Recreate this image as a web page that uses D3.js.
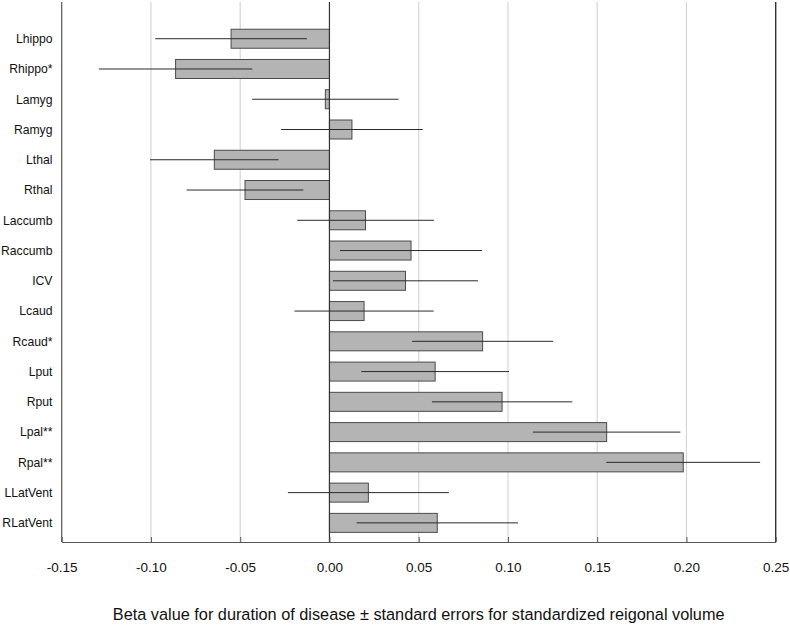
<!DOCTYPE html>
<html>
<head>
<meta charset="utf-8">
<script src="https://cdn.jsdelivr.net/npm/d3@7/dist/d3.min.js"></script>
<style>
  html, body { margin: 0; padding: 0; background: #fff; }
  svg { display: block; font-family: "Liberation Sans", Arial, sans-serif; }
</style>
</head>
<body>
<svg id="chart" width="790" height="625"></svg>
<script>
const categories = ["Lhippo","Rhippo*","Lamyg","Ramyg","Lthal","Rthal","Laccumb","Raccumb","ICV","Lcaud","Rcaud*","Lput","Rput","Lpal**","Rpal**","LLatVent","RLatVent"];
const beta = [-0.0551, -0.0862, -0.0023, 0.0126, -0.0645, -0.0473, 0.0202, 0.0457, 0.0426, 0.0194, 0.0858, 0.0592, 0.0967, 0.1553, 0.1982, 0.0218, 0.0604];
const stdErr = [0.0425, 0.0430, 0.0410, 0.0397, 0.0360, 0.0327, 0.0383, 0.0398, 0.0406, 0.0390, 0.0395, 0.0414, 0.0393, 0.0413, 0.0431, 0.0451, 0.0452];
const xTicks = [-0.15, -0.10, -0.05, 0.00, 0.05, 0.10, 0.15, 0.20, 0.25];
const xTitle = "Beta value for duration of disease \u00b1 standard errors for standardized reigonal volume";

(function () {
const data = categories.map((c, i) => ({ name: c, beta: beta[i], se: stdErr[i] }));

const svg = d3.select("#chart");
const pLeft = 61.7, pRight = 775.7, pTop = 2, pBottom = 542;

const x = d3.scaleLinear().domain([-0.15, 0.25]).range([pLeft, pRight]);
const y = d3.scaleBand().domain(categories).range([23.6, 538]).paddingInner(0.372).paddingOuter(0.186);

// gridlines
svg.append("g").selectAll("line")
  .data(xTicks.filter(t => t !== -0.15 && t !== 0 && t !== 0.25))
  .join("line")
  .attr("x1", d => x(d)).attr("x2", d => x(d))
  .attr("y1", pTop).attr("y2", pBottom)
  .attr("stroke", "#d6d6d6").attr("stroke-width", 1.2);

// bars
svg.append("g").selectAll("rect")
  .data(data)
  .join("rect")
  .attr("x", d => x(Math.min(0, d.beta)))
  .attr("width", d => Math.abs(x(d.beta) - x(0)))
  .attr("y", d => y(d.name))
  .attr("height", y.bandwidth())
  .attr("fill", "#b4b4b4")
  .attr("stroke", "#4a4a4a")
  .attr("stroke-width", 1);

// zero line
svg.append("line")
  .attr("x1", x(0)).attr("x2", x(0)).attr("y1", pTop).attr("y2", pBottom)
  .attr("stroke", "#333").attr("stroke-width", 1.2);

// error bars
svg.append("g").selectAll("line")
  .data(data)
  .join("line")
  .attr("x1", d => x(d.beta - d.se))
  .attr("x2", d => x(d.beta + d.se))
  .attr("y1", d => y(d.name) + y.bandwidth() / 2)
  .attr("y2", d => y(d.name) + y.bandwidth() / 2)
  .attr("stroke", "#2a2a2a").attr("stroke-width", 1);

// frame: left, right
svg.append("line").attr("x1", pLeft).attr("x2", pLeft).attr("y1", pTop).attr("y2", pBottom)
  .attr("stroke", "#555").attr("stroke-width", 1.2);
svg.append("line").attr("x1", pRight).attr("x2", pRight).attr("y1", pTop).attr("y2", pBottom)
  .attr("stroke", "#333").attr("stroke-width", 1.4);

// x axis
const xAxis = d3.axisBottom(x)
  .tickValues(xTicks)
  .tickFormat(d => d.toFixed(2))
  .tickSizeInner(-5)
  .tickSizeOuter(0)
  .tickPadding(20.4);
const gx = svg.append("g").attr("transform", `translate(0,${pBottom})`).call(xAxis);
gx.select(".domain").attr("stroke", "#555").attr("stroke-width", 1.2);
gx.selectAll(".tick line").attr("stroke", "#555");
gx.selectAll(".tick text")
  .attr("font-family", "Liberation Sans, Arial, sans-serif")
  .attr("font-size", 13.5).attr("fill", "#111");

// y labels
svg.append("g").selectAll("text")
  .data(categories)
  .join("text")
  .attr("x", 52.5)
  .attr("y", d => y(d) + y.bandwidth() / 2)
  .attr("dy", "0.35em")
  .attr("text-anchor", "end")
  .attr("font-size", 12.2)
  .attr("fill", "#111")
  .text(d => d);

// title
svg.append("text")
  .attr("x", (pLeft + pRight) / 2)
  .attr("y", 620)
  .attr("text-anchor", "middle")
  .attr("font-size", 16.3)
  .attr("fill", "#111")
  .text(xTitle);
})();
</script>
</body>
</html>
